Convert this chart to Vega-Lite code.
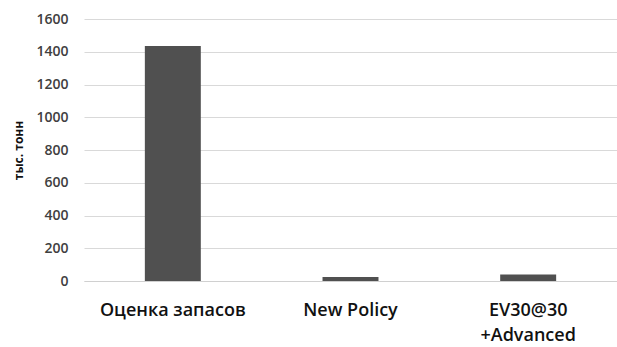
{
  "$schema": "https://vega.github.io/schema/vega-lite/v6.json",
  "width": 533,
  "height": 262,
  "autosize": "none",
  "padding": {"left": 84, "top": 19, "right": 0, "bottom": 66},
  "background": "white",
  "data": {"values": [
    {"category": "Оценка запасов", "value": 1435},
    {"category": "New Policy", "value": 24},
    {"category": "EV30@30 +Advanced", "value": 40}
  ]},
  "mark": {"type": "bar", "color": "#505050"},
  "encoding": {
    "x": {
      "field": "category", "type": "nominal", "sort": null,
      "scale": {"paddingInner": 0.685, "paddingOuter": 0.3425},
      "axis": {
        "title": null, "labelAngle": 0, "ticks": false,
        "domainColor": "#d0d0d0", "domainWidth": 1,
        "labelFont": "Open Sans", "labelFontSize": 18, "labelFontWeight": 600, "labelColor": "#111111",
        "labelPadding": 20, "labelLineHeight": 25,
        "labelExpr": "datum.value == 'EV30@30 +Advanced' ? ['EV30@30', '+Advanced'] : datum.value"
      }
    },
    "y": {
      "field": "value", "type": "quantitative",
      "scale": {"domain": [0, 1600], "nice": false},
      "axis": {
        "values": [0, 200, 400, 600, 800, 1000, 1200, 1400, 1600],
        "format": "d",
        "title": "тыс. тонн", "titleFont": "Open Sans", "titleFontSize": 12, "titleFontWeight": "bold",
        "titleColor": "#111111", "titlePadding": 10,
        "domain": false, "ticks": false, "grid": true, "gridColor": "#d9d9d9",
        "labelFont": "Open Sans", "labelFontSize": 14, "labelFontWeight": 600, "labelColor": "#404040", "labelPadding": 16
      }
    }
  },
  "config": {"view": {"stroke": null}}
}
